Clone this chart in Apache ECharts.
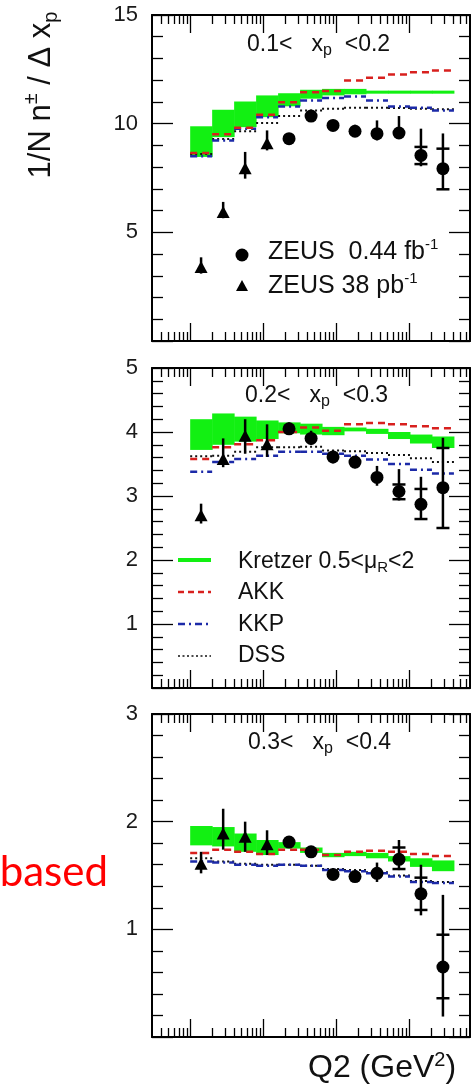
<!DOCTYPE html>
<html>
<head>
<meta charset="utf-8">
<script src="https://cdn.jsdelivr.net/npm/echarts@6/dist/echarts.min.js"></script>
<style>
html, body { margin: 0; padding: 0; background: #fff; }
#chart { width: 471px; height: 1084px; }
</style>
</head>
<body>
<div id="chart"></div>
<script>
// Q2 bins (GeV^2) of the theory histograms
var binEdges = [10, 20, 40, 80, 160, 320, 640, 1280, 2560, 5120, 10240, 20480, 40960];
// bin centres of the data
var q2Low = [14.1, 28.3, 56.6, 113];                              // ZEUS 38 pb-1
var q2High = [226, 453, 905, 1810, 3620, 7240, 14480, 28960];      // ZEUS 0.44 fb-1

// panel 1 : 0.1 < xp < 0.2
var p1LowY = [3.4, 5.93, 7.95, 9.1];
var p1LowErrLo = [3.1, 5.65, 7.47, 8.77];
var p1LowErrHi = [3.85, 6.4, 8.7, 9.69];
var p1HighY = [9.31, 10.35, 9.92, 9.65, 9.54, 9.57, 8.54, 7.93];
var p1HighErrLo = [9.2, 10.2, 9.75, 9.45, 9.23, 9.32, 8.04, 6.97];
var p1HighErrHi = [9.45, 10.5, 10.05, 9.95, 10.15, 10.35, 9.77, 9.55];
var p1HighStatLo = [null, null, null, null, null, null, 8.14, 6.98];
var p1HighStatHi = [null, null, null, null, null, null, 8.93, 8.85];
var p1KretzerLo = [8.47, 9.38, 9.84, 10.3, 10.8, 11.15, 11.3, 11.35, 11.38, 11.38, 11.38, 11.38];
var p1KretzerHi = [9.88, 10.64, 11.02, 11.3, 11.4, 11.56, 11.6, 11.6, 11.52, 11.52, 11.52, 11.52];
var p1AKK = [8.65, 9.51, 9.81, 10.41, 10.99, 11.45, 11.5, 11.99, 12.11, 12.26, 12.37, 12.45];
var p1KKP = [8.5, 9.23, 9.77, 10.3, 10.79, 11.07, 11.18, 11.25, 11.07, 10.79, 10.73, 10.61];
var p1DSS = [8.6, 9.3, 9.65, 10.03, 10.35, 10.61, 10.69, 10.73, 10.73, 10.72, 10.69, 10.66];

// panel 2 : 0.2 < xp < 0.3
var p2LowY = [2.7, 3.58, 3.94, 3.81];
var p2LowErrLo = [2.57, 3.45, 3.66, 3.61];
var p2LowErrHi = [2.88, 3.9, 4.2, 4.12];
var p2HighY = [4.05, 3.9, 3.61, 3.53, 3.29, 3.07, 2.87, 3.13];
var p2HighErrLo = [3.97, 3.8, 3.51, 3.43, 3.16, 2.93, 2.63, 2.5];
var p2HighErrHi = [4.15, 4.02, 3.71, 3.61, 3.47, 3.42, 3.3, 3.91];
var p2HighStatLo = [null, null, null, null, null, 2.95, 2.64, 2.5];
var p2HighStatHi = [null, null, null, null, null, 3.18, 3.11, 3.75];
var p2KretzerLo = [3.72, 3.8, 3.85, 3.89, 3.98, 3.96, 3.95, 4.01, 3.97, 3.89, 3.82, 3.75];
var p2KretzerHi = [4.2, 4.29, 4.24, 4.18, 4.15, 4.13, 4.08, 4.07, 4.05, 4.0, 3.96, 3.93];
var p2AKK = [3.58, 3.76, 3.81, 3.87, 4.0, 4.07, 4.02, 4.12, 4.14, 4.12, 4.09, 4.06];
var p2KKP = [3.38, 3.53, 3.58, 3.63, 3.69, 3.69, 3.66, 3.63, 3.57, 3.5, 3.41, 3.35];
var p2DSS = [3.62, 3.63, 3.69, 3.76, 3.76, 3.77, 3.71, 3.7, 3.67, 3.64, 3.59, 3.53];

// panel 3 : 0.3 < xp < 0.4
var p3LowY = [1.61, 1.89, 1.86, 1.79];
var p3LowErrLo = [1.52, 1.74, 1.72, 1.69];
var p3LowErrHi = [1.72, 2.12, 2.0, 1.92];
var p3HighY = [1.81, 1.72, 1.51, 1.49, 1.52, 1.65, 1.33, 0.65];
var p3HighErrLo = [1.77, 1.67, 1.47, 1.45, 1.44, 1.55, 1.13, 0.19];
var p3HighErrHi = [1.85, 1.77, 1.55, 1.53, 1.62, 1.83, 1.6, 1.32];
var p3HighStatLo = [null, null, null, null, null, 1.56, 1.18, 0.36];
var p3HighStatHi = [null, null, null, null, null, 1.76, 1.48, 0.95];
var p3KretzerLo = [1.78, 1.77, 1.72, 1.69, 1.75, 1.71, 1.67, 1.68, 1.66, 1.63, 1.58, 1.54];
var p3KretzerHi = [1.96, 1.95, 1.89, 1.83, 1.81, 1.76, 1.71, 1.72, 1.71, 1.68, 1.66, 1.64];
var p3AKK = [1.71, 1.74, 1.72, 1.7, 1.74, 1.74, 1.69, 1.72, 1.73, 1.72, 1.7, 1.68];
var p3KKP = [1.63, 1.62, 1.6, 1.59, 1.6, 1.59, 1.55, 1.54, 1.52, 1.49, 1.44, 1.43];
var p3DSS = [1.66, 1.63, 1.61, 1.6, 1.6, 1.59, 1.56, 1.55, 1.53, 1.5, 1.45, 1.44];

// axes
var yMax = [15, 5, 3];
var yLabels = [[5, 10, 15], [1, 2, 3, 4, 5], [1, 2, 3]];
var yMajor = [[0, 5, 10, 15], [0, 1, 2, 3, 4, 5], [0, 1, 2, 3]];
var yMinorStep = [1, 0.2, 0.2];
var xMajor = [10, 100, 1000, 10000];
var xMinor = [4, 5, 6, 7, 8, 9];
[10, 100, 1000, 10000].forEach(function (d) {
    for (var k = 2; k <= 9; k++) { if (d * k < 68000) xMinor.push(d * k); }
});

var panels = [
    { low: [p1LowY, p1LowErrLo, p1LowErrHi], high: [p1HighY, p1HighErrLo, p1HighErrHi, p1HighStatLo, p1HighStatHi],
      kr: [p1KretzerLo, p1KretzerHi], akk: p1AKK, kkp: p1KKP, dss: p1DSS },
    { low: [p2LowY, p2LowErrLo, p2LowErrHi], high: [p2HighY, p2HighErrLo, p2HighErrHi, p2HighStatLo, p2HighStatHi],
      kr: [p2KretzerLo, p2KretzerHi], akk: p2AKK, kkp: p2KKP, dss: p2DSS },
    { low: [p3LowY, p3LowErrLo, p3LowErrHi], high: [p3HighY, p3HighErrLo, p3HighErrHi, p3HighStatLo, p3HighStatHi],
      kr: [p3KretzerLo, p3KretzerHi], akk: p3AKK, kkp: p3KKP, dss: p3DSS }
];

var GREEN = '#12f012', RED = '#d8201e', BLUE = '#1c2aa8';
var FONT = 'Liberation Sans, Arial, sans-serif';

var grids = [
    { left: 152, top: 15, width: 318, height: 326 },
    { left: 152, top: 368, width: 318, height: 320 },
    { left: 152, top: 714, width: 318, height: 323 }
];

function xAxisDef(gi, pos, ticks, len, line) {
    return {
        gridIndex: gi, type: 'log', logBase: 10, min: 3, max: 68000, position: pos,
        axisLine: { show: line, onZero: false, lineStyle: { color: '#000', width: 2 } },
        axisTick: { show: true, inside: true, length: len, customValues: ticks, lineStyle: { color: '#000', width: 1.3 } },
        axisLabel: { show: false }, splitLine: { show: false }
    };
}
function yAxisDef(gi, pos, ticks, len, line, labels) {
    return {
        gridIndex: gi, type: 'value', min: 0, max: yMax[gi], position: pos,
        axisLine: { show: line, onZero: false, lineStyle: { color: '#000', width: 2 } },
        axisTick: { show: true, inside: true, length: len, customValues: ticks, lineStyle: { color: '#000', width: 1.3 } },
        axisLabel: labels ? { show: true, customValues: labels, margin: 14, color: '#1a1a1a', fontSize: 22, fontFamily: FONT }
                          : { show: false },
        splitLine: { show: false }
    };
}

var xAxes = [], yAxes = [];
for (var g = 0; g < 3; g++) {
    var minorY = [];
    for (var v = yMinorStep[g]; v < yMax[g] - 1e-6; v += yMinorStep[g]) {
        var r = Math.round(v * 10) / 10;
        if (yMajor[g].indexOf(r) < 0) minorY.push(r);
    }
    xAxes.push(xAxisDef(g, 'bottom', xMajor, 18, true));
    xAxes.push(xAxisDef(g, 'bottom', xMinor, 9, false));
    xAxes.push(xAxisDef(g, 'top', xMajor, 18, true));
    xAxes.push(xAxisDef(g, 'top', xMinor, 9, false));
    yAxes.push(yAxisDef(g, 'left', yMajor[g], 21, true, yLabels[g]));
    yAxes.push(yAxisDef(g, 'left', minorY, 11, false, null));
    yAxes.push(yAxisDef(g, 'right', yMajor[g], 21, true, null));
    yAxes.push(yAxisDef(g, 'right', minorY, 11, false, null));
}

function bandItem(params, api) {
    var a = api.coord([api.value(0), api.value(3)]);
    var b = api.coord([api.value(1), api.value(2)]);
    return { type: 'rect', shape: { x: a[0], y: a[1], width: b[0] - a[0] + 0.5, height: b[1] - a[1] }, style: { fill: GREEN } };
}
function stepItem(color, width, dash) {
    return function (params, api) {
        var a = api.coord([api.value(0), api.value(2)]);
        var b = api.coord([api.value(1), api.value(2)]);
        return { type: 'line', shape: { x1: a[0], y1: a[1], x2: b[0], y2: a[1] },
                 style: { stroke: color, lineWidth: width, lineDash: dash } };
    };
}
function errItem(params, api) {
    var x = api.value(0);
    var t = api.coord([x, api.value(2)]);
    var b = api.coord([x, api.value(1)]);
    var kids = [{ type: 'line', shape: { x1: t[0], y1: t[1], x2: b[0], y2: b[1] }, style: { stroke: '#000', lineWidth: 2.5 } }];
    [api.value(3), api.value(4)].forEach(function (s) {
        if (s != null && !isNaN(s)) {
            var p = api.coord([x, s]);
            kids.push({ type: 'line', shape: { x1: p[0] - 6.5, y1: p[1], x2: p[0] + 6.5, y2: p[1] }, style: { stroke: '#000', lineWidth: 2.5 } });
        }
    });
    return { type: 'group', children: kids };
}

var series = [];
panels.forEach(function (p, g) {
    var ax = { xAxisIndex: g * 4, yAxisIndex: g * 4 };
    var band = [], akk = [], kkp = [], dss = [];
    for (var i = 0; i < binEdges.length - 1; i++) {
        band.push([binEdges[i], binEdges[i + 1], p.kr[0][i], p.kr[1][i]]);
        akk.push([binEdges[i], binEdges[i + 1], p.akk[i]]);
        kkp.push([binEdges[i], binEdges[i + 1], p.kkp[i]]);
        dss.push([binEdges[i], binEdges[i + 1], p.dss[i]]);
    }
    var lowErr = q2Low.map(function (q, i) { return [q, p.low[1][i], p.low[2][i], null, null]; });
    var highErr = q2High.map(function (q, i) { return [q, p.high[1][i], p.high[2][i], p.high[3][i], p.high[4][i]]; });
    series.push(Object.assign({ type: 'custom', name: 'Kretzer', z: 1, renderItem: bandItem, encode: { x: [0, 1], y: [2, 3] }, data: band }, ax));
    series.push(Object.assign({ type: 'custom', name: 'DSS', z: 2, renderItem: stepItem('#111', 2, [2, 3]), encode: { x: [0, 1], y: 2 }, data: dss }, ax));
    series.push(Object.assign({ type: 'custom', name: 'KKP', z: 2, renderItem: stepItem(BLUE, 2.5, [7, 4, 2, 4]), encode: { x: [0, 1], y: 2 }, data: kkp }, ax));
    series.push(Object.assign({ type: 'custom', name: 'AKK', z: 2, renderItem: stepItem(RED, 2.5, [7, 5]), encode: { x: [0, 1], y: 2 }, data: akk }, ax));
    series.push(Object.assign({ type: 'custom', z: 3, renderItem: errItem, encode: { x: 0, y: [1, 2] }, data: lowErr.concat(highErr) }, ax));
    series.push(Object.assign({ type: 'scatter', name: 'ZEUS 38 pb-1', z: 4, symbol: 'triangle', symbolSize: [13, 12],
        itemStyle: { color: '#000', opacity: 1 }, data: q2Low.map(function (q, i) { return [q, p.low[0][i]]; }) }, ax));
    series.push(Object.assign({ type: 'scatter', name: 'ZEUS 0.44 fb-1', z: 4, symbol: 'circle', symbolSize: 13,
        itemStyle: { color: '#000', opacity: 1 }, data: q2High.map(function (q, i) { return [q, p.high[0][i]]; }) }, ax));
});

function label(x, y, text, rich) {
    return { type: 'text', x: x, y: y, z: 10,
             style: { text: text, align: 'left', verticalAlign: 'middle', fill: '#111', rich: rich } };
}
var binRich = {
    m: { fontSize: 23, fontFamily: FONT, lineHeight: 28, fill: '#111' },
    s: { fontSize: 16, fontFamily: FONT, lineHeight: 6, verticalAlign: 'bottom', fill: '#111' }
};
var zeusRich = {
    m: { fontSize: 25, fontFamily: FONT, lineHeight: 30, fill: '#111' },
    u: { fontSize: 15, fontFamily: FONT, lineHeight: 20, verticalAlign: 'top', fill: '#111' }
};
var legRich = {
    m: { fontSize: 23, fontFamily: FONT, lineHeight: 28, fill: '#111' },
    s: { fontSize: 15, fontFamily: FONT, lineHeight: 8, verticalAlign: 'bottom', fill: '#111' }
};

var graphics = [
    // y axis title
    { type: 'text', x: 41.5, y: 95, rotation: Math.PI / 2, z: 10,
      style: { text: '{m|1/N n}{u|±}{m| / Δ x}{s|p}', align: 'center', verticalAlign: 'middle', fill: '#111',
               rich: { m: { fontSize: 31, fontFamily: FONT, lineHeight: 40, fill: '#111' },
                       u: { fontSize: 20, fontFamily: FONT, lineHeight: 14, verticalAlign: 'top', fill: '#111' },
                       s: { fontSize: 20, fontFamily: FONT, lineHeight: 6, verticalAlign: 'bottom', fill: '#111' } } } },
    label(247, 44.5, '{m|0.1<   x}{s|p}{m|  <0.2}', binRich),
    label(245, 395.5, '{m|0.2<   x}{s|p}{m|  <0.3}', binRich),
    label(248, 742.5, '{m|0.3<   x}{s|p}{m|  <0.4}', binRich),
    // data legend
    { type: 'circle', z: 10, shape: { cx: 242, cy: 255, r: 6.5 }, style: { fill: '#000' } },
    { type: 'polygon', z: 10, shape: { points: [[236, 291], [248, 291], [242, 280]] }, style: { fill: '#000' } },
    label(268, 252.5, '{m|ZEUS  0.44 fb}{u|-1}', zeusRich),
    label(268, 286, '{m|ZEUS 38 pb}{u|-1}', zeusRich),
    // theory legend
    { type: 'line', z: 10, shape: { x1: 178, y1: 560, x2: 211, y2: 560 }, style: { stroke: GREEN, lineWidth: 4 } },
    { type: 'line', z: 10, shape: { x1: 178, y1: 592, x2: 211, y2: 592 }, style: { stroke: RED, lineWidth: 2.5, lineDash: [6, 4] } },
    { type: 'line', z: 10, shape: { x1: 178, y1: 624, x2: 211, y2: 624 }, style: { stroke: BLUE, lineWidth: 2.5, lineDash: [7, 4, 2, 4] } },
    { type: 'line', z: 10, shape: { x1: 178, y1: 656, x2: 211, y2: 656 }, style: { stroke: '#111', lineWidth: 1.5, lineDash: [2, 2.5] } },
    label(238, 561.5, '{m|Kretzer 0.5<μ}{s|R}{m|<2}', legRich),
    label(238, 593, '{m|AKK}', legRich),
    label(238, 625, '{m|KKP}', legRich),
    label(238, 656, '{m|DSS}', legRich),
    // overlay notes
    { type: 'text', x: 108, y: 872, z: 10,
      style: { text: 'based', align: 'right', verticalAlign: 'middle', fill: '#ff0000', fontSize: 42, fontFamily: 'Lato, Open Sans, sans-serif' } },
    label(308, 1068, '{m|Q2 (GeV}{u|2}{m|)}', {
        m: { fontSize: 32, fontFamily: FONT, lineHeight: 36, fill: '#111' },
        u: { fontSize: 20, fontFamily: FONT, lineHeight: 24, verticalAlign: 'top', fill: '#111' }
    })
];

var option = {
    backgroundColor: '#fff',
    animation: false,
    grid: grids,
    xAxis: xAxes,
    yAxis: yAxes,
    series: series,
    graphic: graphics
};

var myChart = echarts.init(document.getElementById('chart'));
myChart.setOption(option);
</script>
</body>
</html>
